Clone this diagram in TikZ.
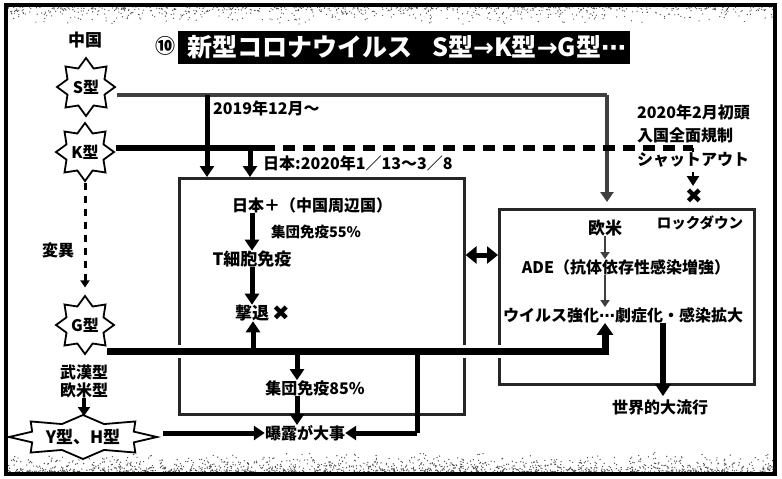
\documentclass[tikz,border=0pt]{standalone}
\usepackage{fontspec}
\newfontfamily\jp{Noto Sans CJK JP}
\newfontfamily\djv{DejaVu Sans}
\usetikzlibrary{arrows.meta,shapes.geometric,calc}
\tikzset{
  every node/.style={inner sep=0pt},
  lab/.style={font=\jp\bfseries\fontsize{16}{18}\selectfont},
  labl/.style={font=\jp\bfseries\fontsize{17}{19}\selectfont},
  labs/.style={font=\jp\bfseries\fontsize{14.5}{16}\selectfont},
  starnode/.style={star, star points=8, star point ratio=1.45, minimum size=58pt, draw, line width=1.8pt, fill=white, font=\jp\bfseries\fontsize{16}{18}\selectfont},
  boxframe/.style={draw=black!85, line width=2.6pt},
  arr/.style={line width=5pt, -{Triangle[width=14pt,length=11pt]}},
  sarr/.style={line width=2.6pt, draw=black!75, -{Triangle[width=9pt,length=7pt]}},
  sline/.style={line width=3.5pt, draw=black!75},
  gline/.style={line width=7pt, -{Triangle[width=16pt,length=12pt]}, preaction={draw=white, line width=13pt, arrows=-}},
  xmark/.style={font=\djv\fontsize{21}{22}\selectfont},
  speck/.style={fill=black!70}
}
\newcommand{\mdots}{{\djv ⋯}}
\begin{document}
\begin{tikzpicture}[x=1pt,y=-1pt]
\useasboundingbox (0,0) rectangle (782,479);
% textured bands and frame
\pgfmathsetseed{7}
\foreach \i in {1,...,700} {
  \fill[speck] ({8+765*rnd},{7+18*rnd*rnd}) circle (0.65pt);
}
\foreach \i in {1,...,1300} {
  \fill[speck] ({8+765*rnd},{472-20*rnd*rnd}) circle (0.7pt);
}
\draw[line width=4pt] (6,5) rectangle (775,474);

% title
\node[font=\jp\bfseries\fontsize{20}{20}\selectfont] (num) at (165,46) {⑩};
\node[fill=black, anchor=west, minimum height=33pt, minimum width=452pt] (title) at (178,47) {};
\node[text=white, anchor=west, font=\jp\bfseries\fontsize{25}{27}\selectfont] (ttext) at (187,47)
  {新型コロナウイルス\hspace{0.8em}S型{\djv\bfseries →}K型{\djv\bfseries →}G型\mdots};

% left column
\node[labl] (china) at (85,40) {中国};
\node[starnode] (S) at (86,87) {S型};
\node[starnode] (K) at (85,152) {K型};
\node[starnode] (G) at (85,325) {G型};
\node[lab] (mut) at (58,250) {変異};
\node[lab] (wuhan) at (84,372) {武漢型};
\node[lab] (eu) at (84,390) {欧米型};
\draw[line width=1.8pt, fill=white] plot[samples at={0,...,15}, variable=\i]
  ({83+(mod(\i,2)==0 ? 74 : 55)*cos(\i*22.5)}, {437+(mod(\i,2)==0 ? 22 : 14)*sin(\i*22.5)}) -- cycle;
\node[labl] (Y) at (83,437) {Y型、H型};
\coordinate (Ytop) at (84,416);
\coordinate (yR) at (163,433);

\draw[line width=3pt, dash pattern=on 7pt off 6pt, -{Triangle[width=9pt,length=7pt]}, shorten >=7pt] (K.south) -- (G.north);
\draw[arr, line width=4pt, -{Triangle[width=12pt,length=9pt]}] (eu.south) -- (Ytop);

% boxes
\node[boxframe, minimum width=285pt, minimum height=236pt, anchor=north west] (C) at (178,177) {};
\node[boxframe, minimum width=255pt, minimum height=175pt, anchor=north west] (R) at (498,208) {};

% S line
\coordinate (s1) at (207,95);
\coordinate (sR) at (607,95);
\draw[sline] (S.east |- s1) -- (sR);
\draw[sarr, line width=3.5pt, -{Triangle[width=13pt,length=10pt]}, shorten >=6pt] (sR) -- (sR |- R.north);
\draw[arr] (s1) -- (s1 |- C.north);
\node[lab, anchor=west] (d2019) at (213,108) {2019年12月〜};

% K line
\coordinate (k1) at (250,148);
\coordinate (kd) at (263,148);
\coordinate (kx) at (693,148);
\draw[line width=6pt] (K.east |- k1) -- (kd);
\draw[line width=6pt, dash pattern=on 12pt off 8pt] (kd) -- (kx);
\draw[line width=2.5pt, dash pattern=on 4pt off 4pt, -{Triangle[width=12pt,length=10pt]}] (kx) -- (693,186);
\draw[arr] (k1) -- (k1 |- C.north);
\node[lab, anchor=west] (djp) at (263,163) {日本:2020年1／13〜3／8};

\node[lab, anchor=west] (t1) at (637,112) {2020年2月初頭};
\node[lab, anchor=west] (t2) at (637,135) {入国全面規制};
\node[lab, anchor=west, fill=white, inner ysep=1pt] (t3) at (637,160) {シャットアウト};
\node[xmark] (x2) at (694,196) {✖};

% center box content
\node[lab] (jp) at (312,205) {日本＋（中国周辺国）};
\node[labl] (tcell) at (252,259) {T細胞免疫};
\node[labl] (gek) at (252,313) {撃退};
\node[xmark] (x1) at (281,313) {✖};
\node[labs] (h55) at (316,232) {集団免疫55\%};
\draw[arr] (jp.south -| tcell) -- (tcell.north);
\draw[arr] (tcell.south) -- (gek.north);

\node[lab] (h85) at (315,388) {集団免疫85\%};
\node[lab] (bak) at (305,433) {曝露が大事};

% double arrow
\coordinate (dbl) at (480,255);
\draw[line width=5pt, {Triangle[width=17pt,length=11pt]}-{Triangle[width=17pt,length=11pt]}] (C.east |- dbl) -- (R.west |- dbl);

% right box content
\node[labl] (eub) at (605,228) {欧米};
\node[labs] (lock) at (700,223) {ロックダウン};
\node[lab] (ade) at (626,267) {ADE（抗体依存性感染増強）};
\node[lab] (vir) at (623,315) {ウイルス強化\mdots 劇症化・感染拡大};
\node[lab] (world) at (660,407) {世界的大流行};
\draw[sarr] (eub.south) -- (eub.south |- ade.north);
\draw[sarr] (ade.south -| eub) -- (vir.north -| eub);
\coordinate (w) at (663,328);
\draw[arr, line width=6pt, -{Triangle[width=15pt,length=12pt]}, shorten >=3pt] (vir.south -| w) -- (world.north -| w);

% G line
\coordinate (gL) at (107,351);
\coordinate (gR) at (605,351);
\coordinate (b1) at (253,351);
\coordinate (b2) at (297,351);
\coordinate (b3) at (417,351);
\coordinate (b3d) at (417,433);
\draw[gline] (gL) -- (gR) -- (gR |- vir.south);
\draw[arr] (b1) -- (b1 |- gek.south);
\draw[arr] (b2) -- (b2 |- h85.north);
\draw[arr] (h85.south -| b2) -- (bak.north -| b2);
\draw[line width=5pt] (b3) -- (b3d);
\draw[arr] (b3d) -- (bak.east);
\draw[arr] (yR) -- (bak.west);
\end{tikzpicture}
\end{document}
